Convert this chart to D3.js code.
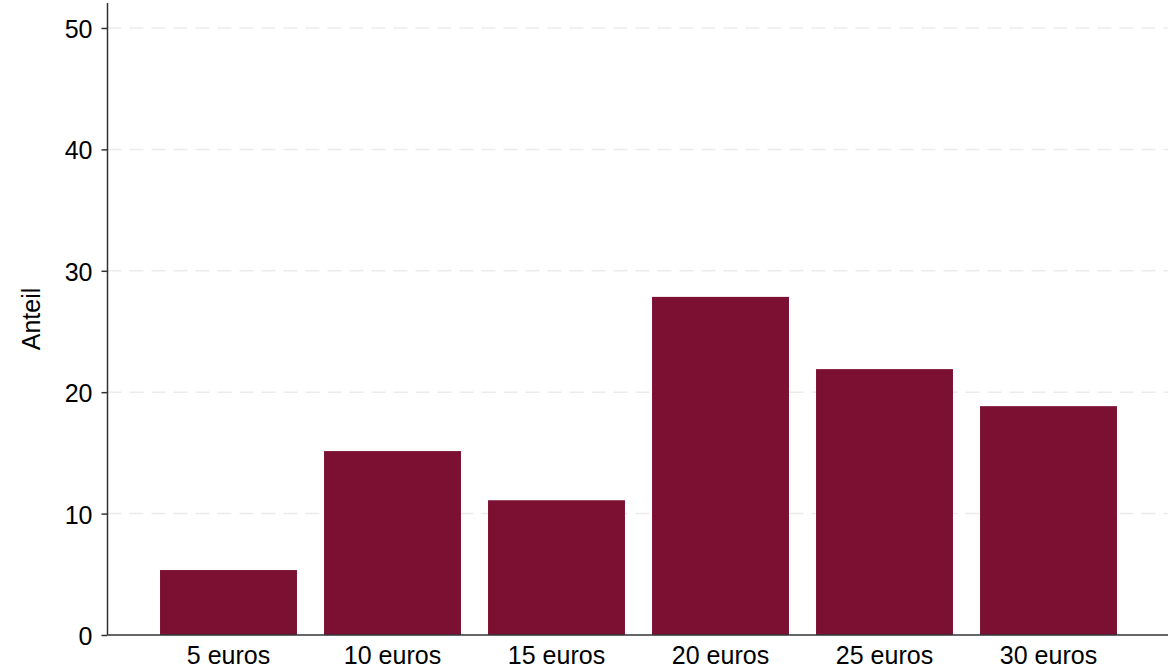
<!DOCTYPE html>
<html><head><meta charset="utf-8">
<script src="https://cdn.jsdelivr.net/npm/d3@7"></script>
<style>body{margin:0;background:#fff}svg{display:block}text{font-family:"Liberation Sans",Arial,Helvetica,sans-serif;fill:#000}</style>
</head><body><svg id="c" width="1176" height="667"></svg>
<script>
const categories = ["5 euros","10 euros","15 euros","20 euros","25 euros","30 euros"];
const values = [5.35, 15.15, 11.1, 27.85, 21.9, 18.85];
const yTicks = [0,10,20,30,40,50];
const yLabel = "Anteil";

const svg = d3.select("#c");
const x0 = 107.5, x1 = 1168, yBase = 635, yTop = 3;
const y = d3.scaleLinear().domain([0,52]).range([yBase, 3.7]);
const x = d3.scaleBand().domain(categories).range([146.5,1130.5]).paddingInner(0.165).paddingOuter(0.0825);
const FS = 25;

// grid
svg.append("g").selectAll("line").data(yTicks.filter(d=>d>0)).join("line")
  .attr("x1",x0).attr("x2",x1).attr("y1",d=>y(d)).attr("y2",d=>y(d))
  .attr("stroke","#ebebeb").attr("stroke-width",1.5).attr("stroke-dasharray","14,8");

// bars
svg.append("g").selectAll("rect").data(values).join("rect")
  .attr("x",(d,i)=>x(categories[i])).attr("width",x.bandwidth())
  .attr("y",d=>y(d)).attr("height",d=>yBase-y(d)).attr("fill","#7b1032");

// y axis
const ya = svg.append("g").attr("transform",`translate(${x0},0)`)
  .call(d3.axisLeft(y).tickValues(yTicks).tickSize(6).tickPadding(9));
ya.select(".domain").attr("d",`M0,${yTop}V${yBase}`).attr("stroke","#333").attr("stroke-width",1.5);
ya.selectAll(".tick line").attr("stroke","#333").attr("stroke-width",1.5);
ya.selectAll("text").attr("font-size",FS).attr("dy","0.38em").attr("font-family","Liberation Sans, Arial, sans-serif").attr("fill","#000");

// x axis
const xa = svg.append("g").attr("transform",`translate(0,${yBase})`)
  .call(d3.axisBottom(x).tickSize(0).tickPadding(11));
xa.select(".domain").attr("d",`M${x0},0H${x1}`).attr("stroke","#333").attr("stroke-width",1.5);
xa.selectAll("text").attr("font-size",FS).attr("font-family","Liberation Sans, Arial, sans-serif").attr("fill","#000");

svg.append("text").attr("transform",`translate(40,${(yTop+yBase)/2}) rotate(-90)`)
  .attr("text-anchor","middle").attr("font-size",FS).text(yLabel);
</script></body></html>
